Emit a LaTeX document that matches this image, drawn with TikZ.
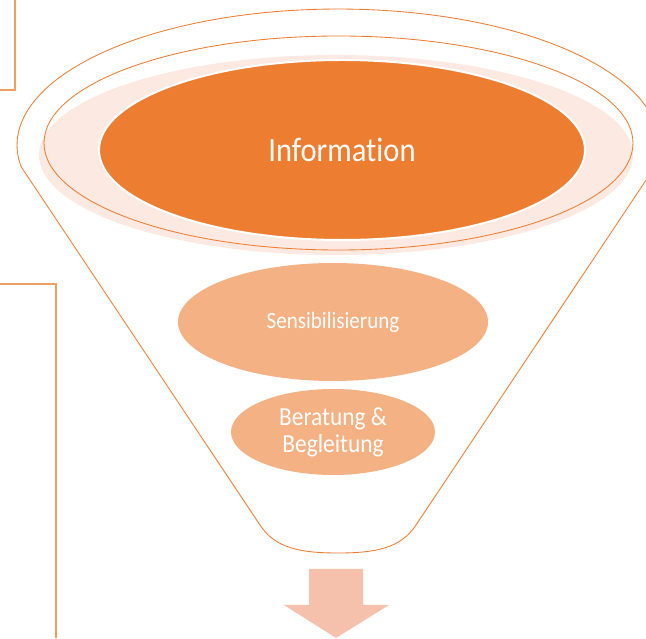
\documentclass[tikz,border=0pt]{standalone}
\usepackage{fontspec}
\newfontfamily\funnelfont{Carlito}[FakeStretch=0.9, Ligatures=NoCommon]
\usepackage{tikz}
\usetikzlibrary{shapes.geometric}
\definecolor{funnelorange}{HTML}{ED7D31}
\definecolor{funnellight}{HTML}{F4B183}
\definecolor{funnelpink}{HTML}{FBE9E2}
\definecolor{funnelarrow}{HTML}{F5C1AD}
\definecolor{boxline}{HTML}{F19F5F}

\begin{document}
\begin{tikzpicture}[x=1pt, y=1pt,
		stage/.style={ellipse, inner sep=0pt, text=white, align=center}]
		%%%%% START %%%%%
		
		\clip (0, 0) rectangle (646, 638);
		
		\draw[line width=0.6mm, color=boxline] (0, 548) -- (15, 548) -- (15, 638);
		\draw[line width=0.6mm, color=boxline] (0, 354) -- (56, 354) -- (56, 0);
		
		\draw[line width=0.3mm, color=funnelorange] (416, 113) -- (654.8, 471) arc (-9.3:189.3:321 and 136) -- (260, 113)
			.. controls (275, 90) and (300, 85) .. (338, 85)
			.. controls (376, 85) and (401, 90) .. (416, 113);
		
		\fill[color=funnelpink] (336, 483) ellipse (297 and 100);
		\draw[line width=0.3mm, color=funnelorange] (338.5, 495) ellipse (294.5 and 107);
		
		\node[stage, fill=funnelorange, draw=white, line width=0.7mm, minimum width=486, minimum height=180, font=\funnelfont\fontsize{34}{36}\selectfont] (info) at (342, 488) {Information};
		\node[stage, fill=funnellight, minimum width=310, minimum height=118, font=\funnelfont\fontsize{23.4}{26}\selectfont] (sens) at (333, 316) {Sensibilisierung};
		\node[stage, fill=funnellight, minimum width=204, minimum height=86, font=\funnelfont\fontsize{26}{27}\selectfont] (berat) at (333, 206) {Beratung \&\\Begleitung};
		
		\fill[color=funnelarrow] (309, 69) -- (363, 69) -- (363, 33) -- (389, 33) -- (336, 0) -- (284, 33) -- (309, 33) -- cycle;
		
		%%%%% END %%%%%
\end{tikzpicture}
\end{document}
